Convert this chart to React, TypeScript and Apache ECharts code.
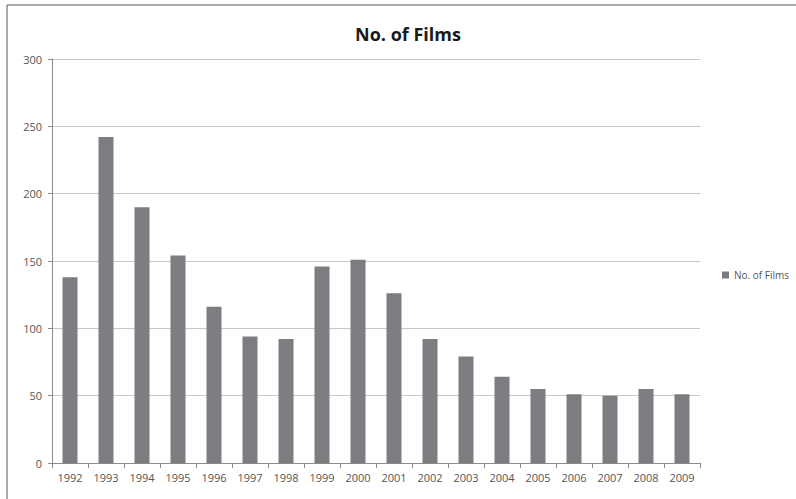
import React, { useEffect, useRef } from "react";
import * as echarts from "echarts";

const years = ["1992","1993","1994","1995","1996","1997","1998","1999","2000","2001","2002","2003","2004","2005","2006","2007","2008","2009"];
const films = [138, 242, 190, 154, 116, 94, 92, 146, 151, 126, 92, 79, 64, 55, 51, 50, 55, 51];
const seriesName = "No. of Films";
const titleText = "No. of Films";

export default function App() {
  const ref = useRef<HTMLDivElement>(null);
  useEffect(() => {
    if (!ref.current) return;
    const chart = echarts.init(ref.current, null, { renderer: "svg" });
    const font = "'Open Sans', 'Liberation Sans', sans-serif";
    chart.setOption({
      animation: false,
      backgroundColor: "#ffffff",
      title: {
        text: titleText,
        left: 403,
        textAlign: "center",
        top: 20,
        textStyle: { fontFamily: font, fontSize: 18, fontWeight: "bold", color: "#1a1a1a" },
      },
      legend: {
        data: [seriesName],
        left: 717,
        top: 265,
        itemWidth: 7,
        itemHeight: 7,
        itemGap: 4,
        textStyle: { fontFamily: font, fontSize: 10, color: "#555" },
        icon: "rect",
      },
      grid: { left: 52, right: 96, top: 59, bottom: 36, containLabel: false },
      xAxis: {
        type: "category",
        data: years,
        axisLine: { lineStyle: { color: "#8a8a8a" } },
        axisTick: { show: true, alignWithLabel: false, length: 5, lineStyle: { color: "#8a8a8a" } },
        axisLabel: { fontFamily: font, fontSize: 11, color: "#555", margin: 9 },
      },
      yAxis: {
        type: "value",
        min: 0,
        max: 300,
        interval: 50,
        axisLine: { show: true, lineStyle: { color: "#8a8a8a" } },
        axisTick: { show: true, length: 4, lineStyle: { color: "#8a8a8a" } },
        axisLabel: { fontFamily: font, fontSize: 11, color: "#555", margin: 10 },
        splitLine: { lineStyle: { color: "#c6c6c6" } },
      },
      series: [
        {
          name: seriesName,
          type: "bar",
          data: films,
          barWidth: 15,
          itemStyle: { color: "#7d7d81" },
        },
      ],
      graphic: [
        { type: "line", shape: { x1: 7, y1: 5, x2: 796, y2: 5 }, style: { stroke: "#8c8c8c", lineWidth: 1.5 } },
        { type: "line", shape: { x1: 7, y1: 5, x2: 7, y2: 499 }, style: { stroke: "#8c8c8c", lineWidth: 1.5 } },
      ],
    });
    return () => chart.dispose();
  }, []);
  return <div ref={ref} style={{ position: "absolute", left: 0, top: 0, width: 796, height: 499 }} />;
}
